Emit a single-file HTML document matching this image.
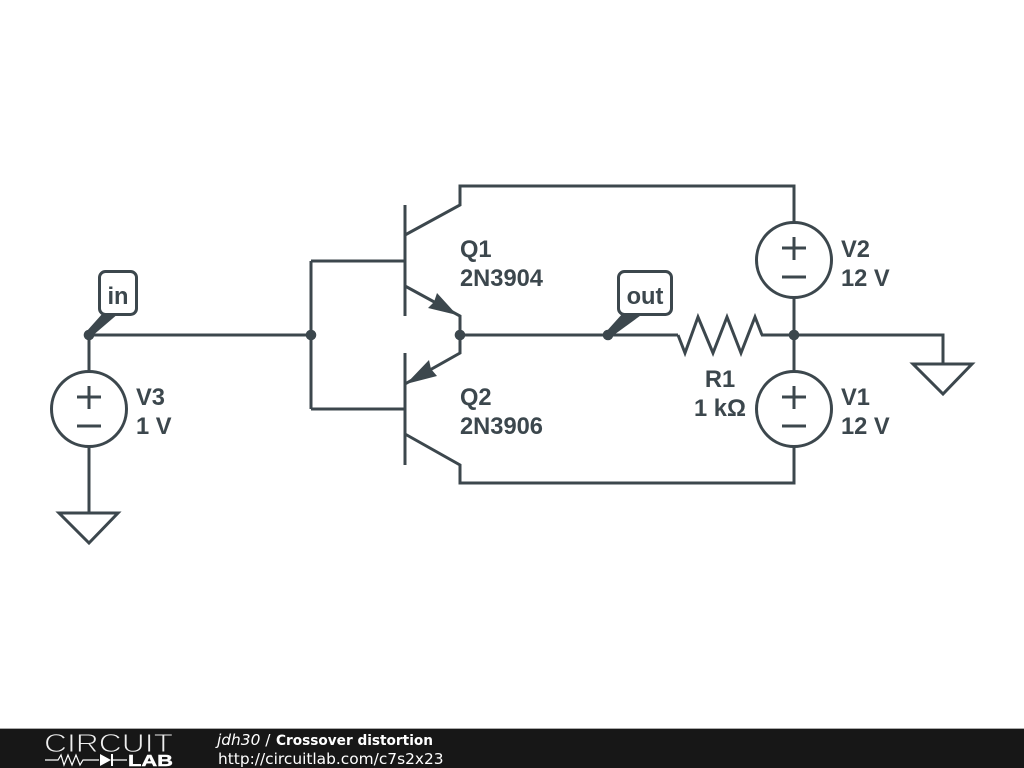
<!DOCTYPE html>
<html><head><meta charset="utf-8"><style>
html,body{margin:0;padding:0;background:#fff;width:1024px;height:768px;overflow:hidden}
svg{display:block}
.w{fill:none;stroke:#3c474d;stroke-width:3;stroke-linejoin:miter;stroke-linecap:butt}
.d{fill:#3c474d}
.t{font-family:"Liberation Sans",sans-serif;font-weight:bold;font-size:23.7px;fill:#3c474d}
.f{font-family:"DejaVu Sans",sans-serif;font-size:15.4px;fill:#fff}
</style></head><body>
<svg width="1024" height="768" viewBox="0 0 1024 768" xmlns="http://www.w3.org/2000/svg">
<rect width="1024" height="768" fill="#fff"/>
<!-- wires -->
<path class="w" d="M89 335H311M460 335H678M761 335H943V364M89 335V371M89 447V513M311 261V409M311 261H405M311 409H405"/>
<path class="w" d="M405 205V316M405 235L460 205V186H794V222M405 286L460 316V353L405 384"/>
<path class="w" d="M405 353V465M405 434L460 465V483H794V447M794 298V371"/>
<path class="w" d="M678 335L685 353L698 317L713 353L727 317L741 353L755 317L762 335"/>
<!-- arrowheads -->
<polygon class="d" points="457,315 428,308 434,302 437,293"/>
<polygon class="d" points="406,384 429,360 431,369 437,376"/>
<!-- grounds -->
<polygon class="w" points="913,364 972,364 943,394"/>
<polygon class="w" points="59,513 118,513 89,543"/>
<!-- sources -->
<g class="w">
<circle cx="794" cy="260" r="37.5"/>
<path d="M782 248H806M794 237V260M782 277H806"/>
<circle cx="794" cy="409" r="37.5"/>
<path d="M782 397H806M794 386V409M782 426H806"/>
<circle cx="89" cy="409" r="37.5"/>
<path d="M77 397H101M89 386V409M77 426H101"/>
</g>
<!-- junctions -->
<circle class="d" cx="89" cy="335" r="5.3"/>
<circle class="d" cx="311" cy="335" r="5.3"/>
<circle class="d" cx="460" cy="335" r="5.3"/>
<circle class="d" cx="608" cy="335" r="5.3"/>
<circle class="d" cx="794" cy="335" r="5.3"/>
<!-- net labels -->
<polygon class="d" points="86,332 103,313 119,313 91,337"/>
<rect x="99.5" y="271.5" width="37" height="43" rx="6" fill="#fff" stroke="#3c474d" stroke-width="3"/>
<text class="t" x="118" y="304" text-anchor="middle">in</text>
<polygon class="d" points="605,333 623,313 644,313 611,337"/>
<rect x="618.5" y="271.5" width="53" height="43" rx="6" fill="#fff" stroke="#3c474d" stroke-width="3"/>
<text class="t" x="645" y="304" text-anchor="middle">out</text>
<!-- labels -->
<text class="t" x="460" y="257">Q1</text>
<text class="t" x="460" y="286">2N3904</text>
<text class="t" x="460" y="405">Q2</text>
<text class="t" x="460" y="434">2N3906</text>
<text class="t" x="841" y="257">V2</text>
<text class="t" x="841" y="286">12 V</text>
<text class="t" x="841" y="405">V1</text>
<text class="t" x="841" y="434">12 V</text>
<text class="t" x="136" y="405">V3</text>
<text class="t" x="136" y="434">1 V</text>
<text class="t" x="720" y="387" text-anchor="middle">R1</text>
<text class="t" x="720" y="416" text-anchor="middle">1 kΩ</text>
<!-- footer -->
<rect x="0" y="729" width="1024" height="39" fill="#171717"/>
<rect x="0" y="728" width="1024" height="1" fill="#aaa"/>
<text x="44" y="752" font-family="Liberation Sans, sans-serif" font-size="26" fill="#eee" stroke="#171717" stroke-width="0.9" textLength="129" lengthAdjust="spacingAndGlyphs">CIRCUIT</text>
<path d="M45 760H58L61 755L64 765L68 755L72 765L76 755L80 765L83 760H99M113 760H127" fill="none" stroke="#fff" stroke-width="1.2"/>
<polygon points="100,754 100,766 111,760" fill="#fff"/>
<rect x="111" y="754" width="2" height="12" fill="#fff"/>
<text x="128" y="766" font-family="Liberation Sans, sans-serif" font-size="16" font-weight="bold" fill="#fff" stroke="#fff" stroke-width="0.4" textLength="45" lengthAdjust="spacingAndGlyphs">LAB</text>
<text class="f" x="217" y="745"><tspan font-style="italic">jdh30</tspan> /</text>
<text class="f" x="276" y="745" font-weight="bold" style="font-size:14px" textLength="157" lengthAdjust="spacingAndGlyphs">Crossover distortion</text>
<text class="f" x="218" y="764">http://circuitlab.com/c7s2x23</text>
</svg>
</body></html>
